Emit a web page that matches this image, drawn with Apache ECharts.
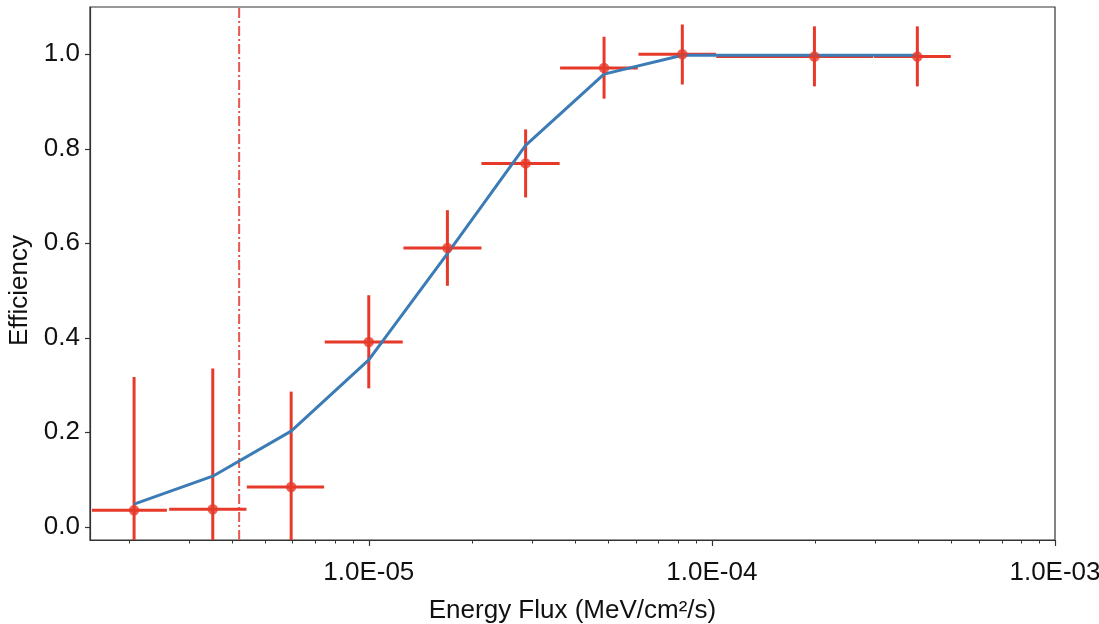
<!DOCTYPE html>
<html>
<head>
<meta charset="utf-8">
<script src="https://cdn.jsdelivr.net/npm/echarts@6/dist/echarts.min.js"></script>
<style>
html,body{margin:0;padding:0;background:#fff;}
#chart{width:1099px;height:624px;}
</style>
</head>
<body>
<div id="chart"></div>
<script>
// ---- data ----
const xCenter = [2.07e-6, 3.51e-6, 5.94e-6, 1.0e-5, 1.695e-5, 2.865e-5, 4.85e-5, 8.2e-5, 1.99e-4, 3.97e-4];
const xLow    = [1.56e-6, 2.62e-6, 4.41e-6, 7.44e-6, 1.262e-5, 2.13e-5, 3.61e-5, 6.11e-5, 1.03e-4, 2.97e-4];
const xHigh   = [2.58e-6, 4.40e-6, 7.41e-6, 1.256e-5, 2.13e-5, 3.60e-5, 6.08e-5, 1.028e-4, 2.95e-4, 4.97e-4];
const effVal  = [0.035, 0.037, 0.084, 0.391, 0.590, 0.769, 0.971, 1.000, 0.995, 0.995];
const effLow  = [-0.247, -0.261, -0.118, 0.293, 0.510, 0.697, 0.906, 0.936, 0.932, 0.932];
const effHigh = [0.317, 0.335, 0.286, 0.490, 0.670, 0.841, 1.037, 1.063, 1.059, 1.059];
const modelY  = [0.048, 0.107, 0.2025, 0.353, 0.578, 0.807, 0.958, 0.998, 0.998, 0.998];
const thresholdX = 4.19e-6;
const xRange = [1.54e-6, 1e-3];
const yRange = [-0.028, 1.1];
const xMajorTicks = [1e-5, 1e-4, 1e-3];
const xMinorTicks = [2e-6,3e-6,4e-6,5e-6,6e-6,7e-6,8e-6,9e-6,
                     2e-5,3e-5,4e-5,5e-5,6e-5,7e-5,8e-5,9e-5,
                     2e-4,3e-4,4e-4,5e-4,6e-4,7e-4,8e-4,9e-4];
const yTicks = [0, 0.2, 0.4, 0.6, 0.8, 1.0];
const xName = 'Energy Flux (MeV/cm²/s)';
const yName = 'Efficiency';

const RED = '#e6392a';
const BLUE = '#3b7bb6';
const FONT = 'Liberation Sans';

const chart = echarts.init(document.getElementById('chart'), null, {renderer: 'canvas'});

const errData = xCenter.map((x, i) => [x, effVal[i], xLow[i], xHigh[i], effLow[i], effHigh[i]]);

function fmtExp(v) {
  const e = Math.round(Math.log10(v));
  const s = (e < 0 ? '-' : '+') + String(Math.abs(e)).padStart(2, '0');
  return '1.0E' + s;
}

const option = {
  animation: false,
  backgroundColor: '#fff',
  grid: {left: 90, right: 44, top: 7, bottom: 84, show: true, borderColor: '#333', borderWidth: 1.2,
         backgroundColor: 'transparent', containLabel: false, outerBoundsMode: 'none'},
  xAxis: [{
    type: 'log', logBase: 10, min: xRange[0], max: xRange[1],
    name: xName, nameLocation: 'middle', nameGap: 58,
    nameTextStyle: {fontFamily: FONT, fontSize: 26, color: '#111'},
    axisLine: {show: true, onZero: false, lineStyle: {color: '#333', width: 1.2}},
    axisTick: {show: true, length: 6, customValues: xMajorTicks, lineStyle: {color: '#333', width: 1.2}},
    axisLabel: {show: true, margin: 20, customValues: xMajorTicks, fontFamily: FONT, fontSize: 26, color: '#111', formatter: fmtExp},
    splitLine: {show: false}, minorTick: {show: false}
  }, {
    type: 'log', logBase: 10, min: xRange[0], max: xRange[1], position: 'bottom', offset: 0,
    axisLine: {show: false, onZero: false},
    axisTick: {show: true, length: 3.5, customValues: xMinorTicks, lineStyle: {color: '#333', width: 1}},
    axisLabel: {show: false}, splitLine: {show: false}
  }],
  yAxis: {
    type: 'value', min: yRange[0], max: yRange[1],
    name: yName, nameLocation: 'middle', nameGap: 56, nameRotate: 90,
    nameTextStyle: {fontFamily: FONT, fontSize: 26, color: '#111', padding: [0, 34, 0, 0]},
    axisLine: {show: true, onZero: false, lineStyle: {color: '#333', width: 1.2}},
    axisTick: {show: true, length: 5, customValues: yTicks, lineStyle: {color: '#333', width: 1.2}},
    axisLabel: {show: true, margin: 10, customValues: yTicks, fontFamily: FONT, fontSize: 26, color: '#111',
      formatter: v => Number(v).toFixed(1)},
    splitLine: {show: false}
  },
  series: [{
    type: 'line', xAxisIndex: 0, z: 1,
    data: [[thresholdX, yRange[0]], [thresholdX, yRange[1]]],
    showSymbol: false, symbol: 'none', silent: true,
    lineStyle: {color: '#e8574d', width: 2, type: [10, 3, 2, 3]}
  }, {
    type: 'custom', xAxisIndex: 0, z: 2,
    data: errData,
    renderItem: function (params, api) {
      const cs = params.coordSys;
      const clampX = v => Math.max(cs.x, Math.min(cs.x + cs.width, v));
      const clampY = v => Math.max(cs.y, Math.min(cs.y + cs.height, v));
      const c = api.coord([api.value(0), api.value(1)]);
      const l = api.coord([api.value(2), api.value(1)]);
      const r = api.coord([api.value(3), api.value(1)]);
      const lo = api.coord([api.value(0), api.value(4)]);
      const hi = api.coord([api.value(0), api.value(5)]);
      const st = {stroke: RED, lineWidth: 3, fill: null};
      return {type: 'group', children: [
        {type: 'line', shape: {x1: clampX(l[0]), y1: c[1], x2: clampX(r[0]), y2: c[1]}, style: st},
        {type: 'line', shape: {x1: c[0], y1: clampY(lo[1]), x2: c[0], y2: clampY(hi[1])}, style: st}
      ]};
    }
  }, {
    type: 'line', xAxisIndex: 0, z: 3,
    data: xCenter.map((x, i) => [x, modelY[i]]),
    showSymbol: false, symbol: 'none',
    lineStyle: {color: BLUE, width: 3}
  }, {
    type: 'scatter', xAxisIndex: 0, z: 4,
    data: xCenter.map((x, i) => [x, effVal[i]]),
    symbol: 'circle', symbolSize: 10.5,
    itemStyle: {color: RED}
  }]
};
chart.setOption(option);
</script>
</body>
</html>
